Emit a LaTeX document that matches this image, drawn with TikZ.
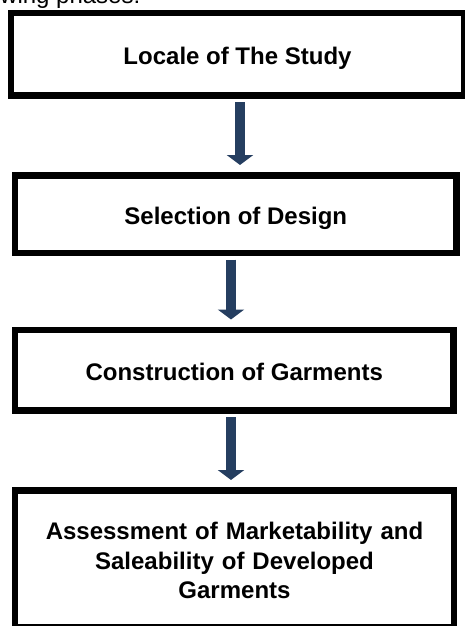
\documentclass[tikz,border=0pt]{standalone}
\usepackage{fontspec}
\setmainfont{Liberation Sans}
\usetikzlibrary{arrows.meta}
\definecolor{arrowblue}{RGB}{37,62,96}
\newcommand{\lowertext}[2]{\raisebox{-#1}[\height][\depth]{#2}}
\tikzset{
  stagebox/.style={draw=black, line width=6.5pt, fill=white, inner sep=0pt,
    align=center, font=\fontsize{24}{29.5}\selectfont\bfseries},
  flowarrow/.style={draw=arrowblue, line width=9.5pt,
    -{Triangle[width=26pt,length=10pt]}}
}
\begin{document}
\begin{tikzpicture}[x=1pt,y=-1pt]
\useasboundingbox (0,0) rectangle (464,626);
\node[anchor=base west, font=\fontsize{24}{29}\selectfont, inner sep=0pt] (intro) at (0,4) {wing phases:};
% boxes (positions)
\path
  (237.5,54.25) coordinate (c1)
  (235.75,214.25) coordinate (c2)
  (234.25,370.25) coordinate (c3)
  (234.5,559) coordinate (c4);
\node[stagebox, minimum width=453pt, minimum height=82.5pt] (b1) at (c1) {\lowertext{4.5pt}{Locale of The Study}};
\node[stagebox, minimum width=441.5pt, minimum height=77.5pt] (b2) at (c2) {\lowertext{4.5pt}{Selection of Design}};
\node[stagebox, minimum width=438.5pt, minimum height=80.5pt] (b3) at (c3) {\lowertext{2pt}{Construction of Garments}};
\node[stagebox, minimum width=439pt, minimum height=137pt, text width=400pt] (b4) at (c4) {\lowertext{1.5pt}{\parbox{400pt}{\centering Assessment of Marketability and\\Saleability of Developed\\Garments}}};
% arrows
\draw[flowarrow, shorten >=7.25pt] ([xshift=2.5pt]b1.south) ++(0,3.25) -- ([xshift=4.25pt]b2.north);
\draw[flowarrow, shorten >=7.25pt] ([xshift=-4.75pt]b2.south) ++(0,3.25) -- ([xshift=-3.25pt]b3.north);
\draw[flowarrow, shorten >=7.25pt] ([xshift=-3.25pt]b3.south) ++(0,3.25) -- ([xshift=-3.5pt]b4.north);
\end{tikzpicture}
\end{document}
